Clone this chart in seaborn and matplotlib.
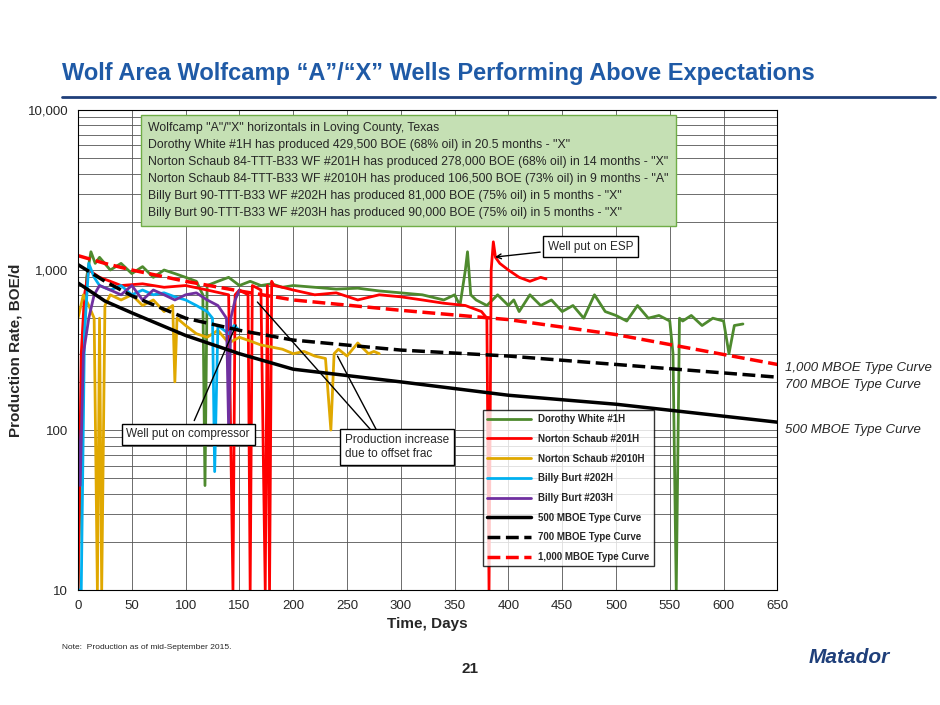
import matplotlib
matplotlib.use("Agg")
import matplotlib.pyplot as plt
import seaborn as sns
import pandas as pd

# type curves (days, BOE/d)
tc_days = [0, 25, 50, 100, 150, 200, 300, 400, 500, 650]
tc_500 = [830, 640, 540, 390, 300, 240, 200, 165, 145, 112]
tc_700 = [1080, 850, 690, 500, 420, 365, 316, 290, 257, 214]
tc_1000 = [1230, 1100, 1000, 850, 740, 650, 560, 490, 395, 257]

# wells (days, BOE/d)
dw_days = [0, 4, 8, 12, 16, 20, 30, 40, 50, 60, 70, 80, 90, 100, 110, 116, 118, 120, 130, 140, 150, 160, 170, 180,
           190, 200, 220, 240, 260, 280, 300, 320, 340, 350, 355, 360, 362, 365, 370, 380, 390, 400, 405, 410, 420,
           430, 440, 450, 460, 470, 480, 490, 500, 510, 520, 530, 540, 550, 553, 556, 559, 562, 570, 580, 590, 600,
           605, 610, 618]
dw_rate = [10, 200, 900, 1300, 1100, 1200, 1000, 1100, 950, 1050, 900, 1000, 950, 900, 850, 700, 45, 800, 850, 900,
           800, 850, 800, 820, 780, 800, 780, 760, 770, 740, 720, 700, 650, 700, 600, 1000, 1300, 700, 650, 600, 700,
           600, 650, 550, 700, 600, 650, 550, 600, 500, 700, 550, 520, 480, 600, 500, 520, 480, 300, 10, 500, 480,
           520, 450, 500, 480, 300, 450, 460]
ns201_days = [0, 3, 6, 10, 20, 30, 40, 60, 80, 100, 120, 140, 144, 146, 150, 158, 160, 162, 170, 174, 176, 178, 180,
              182, 190, 200, 220, 240, 260, 280, 300, 320, 340, 360, 375, 380, 382, 384, 386, 388, 392, 400, 410, 420,
              430, 435]
ns201_rate = [10, 300, 700, 1000, 900, 850, 800, 820, 780, 800, 750, 700, 10, 700, 750, 700, 10, 800, 750, 10, 800,
              10, 850, 800, 780, 750, 700, 720, 650, 700, 680, 650, 620, 600, 550, 500, 10, 1000, 1500, 1200, 1100,
              1000, 900, 850, 900, 880]
ns2010_days = [0, 5, 10, 15, 18, 20, 22, 25, 30, 40, 50, 60, 70, 80, 88, 90, 92, 100, 110, 120, 130, 140, 150, 160,
               170, 180, 190, 200, 210, 220, 230, 235, 238, 242, 250, 260, 270, 275, 280]
ns2010_rate = [500, 700, 600, 500, 10, 500, 10, 600, 700, 650, 700, 600, 650, 550, 600, 200, 500, 450, 400, 380, 420,
               350, 380, 360, 340, 330, 320, 300, 310, 290, 280, 100, 300, 320, 290, 350, 300, 310, 300]
bb202_days = [0, 3, 6, 10, 15, 20, 30, 40, 50, 60, 70, 80, 90, 100, 110, 120, 125, 127, 130, 140, 145, 150]
bb202_rate = [10, 10, 400, 1100, 900, 800, 750, 800, 700, 750, 700, 720, 680, 650, 600, 550, 500, 55, 450, 400, 450, 420]
bb203_days = [0, 2, 5, 10, 15, 20, 30, 40, 50, 60, 70, 80, 90, 100, 110, 120, 130, 138, 140, 142, 146, 150]
bb203_rate = [100, 45, 300, 500, 700, 800, 750, 700, 800, 650, 750, 700, 650, 700, 720, 650, 600, 500, 100, 500, 650, 750]

wells = [("Dorothy White #1H", dw_days, dw_rate, "#4e8a2e", "-"),
         ("Norton Schaub #201H", ns201_days, ns201_rate, "#ff0000", "-"),
         ("Norton Schaub #2010H", ns2010_days, ns2010_rate, "#e0a800", "-"),
         ("Billy Burt #202H", bb202_days, bb202_rate, "#00b0f0", "-"),
         ("Billy Burt #203H", bb203_days, bb203_rate, "#7030a0", "-"),
         ("500 MBOE Type Curve", tc_days, tc_500, "black", "-"),
         ("700 MBOE Type Curve", tc_days, tc_700, "black", "--"),
         ("1,000 MBOE Type Curve", tc_days, tc_1000, "#ff0000", "--")]

sns.set_style("white")
plt.rcParams['font.family'] = ['Liberation Sans', 'DejaVu Sans']
fig = plt.figure(figsize=(9.4, 7.05), dpi=100)
ax = fig.add_axes([0.083, 0.163, 0.744, 0.681])
for name, d, r, c, ls in wells:
    df = pd.DataFrame({"day": d, "rate": r})
    lw = 2.5 if "Type" in name else 2
    sns.lineplot(data=df, x="day", y="rate", ax=ax, color=c, linestyle=ls, lw=lw, label=name, sort=False)

ax.set_yscale("log")
ax.set_ylim(10, 10000)
ax.set_xlim(0, 650)
ax.set_xticks(range(0, 651, 50))
ax.set_yticks([10, 100, 1000, 10000])
ax.set_yticklabels(["10", "100", "1,000", "10,000"])
ax.grid(True, which="both", color="#555555", lw=0.6)
for s in ax.spines.values():
    s.set_color("black")
ax.tick_params(labelsize=9.5)
ax.set_xlabel("Time, Days", fontsize=11, fontweight="bold")
ax.set_ylabel("Production Rate, BOE/d", fontsize=11, fontweight="bold")

leg = ax.legend(loc="lower right", bbox_to_anchor=(0.83, 0.04), fontsize=7, frameon=True, fancybox=False,
                edgecolor="black", handlelength=4.5, labelspacing=1.0, prop={"weight": "bold", "size": 7})
leg.get_frame().set_linewidth(1)

box_text = ('Wolfcamp "A"/"X" horizontals in Loving County, Texas\n'
            'Dorothy White #1H has produced 429,500 BOE (68% oil) in 20.5 months - "X"\n'
            'Norton Schaub 84-TTT-B33 WF #201H has produced 278,000 BOE (68% oil) in 14 months - "X"\n'
            'Norton Schaub 84-TTT-B33 WF #2010H has produced 106,500 BOE (73% oil) in 9 months - "A"\n'
            'Billy Burt 90-TTT-B33 WF #202H has produced 81,000 BOE (75% oil) in 5 months - "X"\n'
            'Billy Burt 90-TTT-B33 WF #203H has produced 90,000 BOE (75% oil) in 5 months - "X"')
ax.text(0.1, 0.975, box_text, transform=ax.transAxes, va="top", fontsize=8.8, linespacing=1.55,
        bbox=dict(boxstyle="square,pad=0.6", fc="#c5e0b4", ec="#70ad47"))
ax.annotate("Well put on ESP", xy=(385, 1200), xytext=(437, 1400), fontsize=8.5, va="center",
            bbox=dict(boxstyle="square,pad=0.4", fc="white", ec="black"),
            arrowprops=dict(arrowstyle="->", color="black"))
ax.annotate("Well put on compressor", xy=(148, 470), xytext=(45, 90), fontsize=8.5,
            bbox=dict(boxstyle="square,pad=0.4", fc="white", ec="black"),
            arrowprops=dict(arrowstyle="-", color="black"))
ax.annotate("", xy=(165, 650), xytext=(285, 80), arrowprops=dict(arrowstyle="-", color="black"))
ax.annotate("", xy=(240, 300), xytext=(285, 80), arrowprops=dict(arrowstyle="-", color="black"))
ax.text(248, 68, "Production increase\ndue to offset frac", fontsize=8.5,
        bbox=dict(boxstyle="square,pad=0.4", fc="white", ec="black"))

for y, t in [(0.474, "1,000 MBOE Type Curve"), (0.449, "700 MBOE Type Curve"), (0.386, "500 MBOE Type Curve")]:
    fig.text(0.835, y, t, fontsize=9.5, style="italic")

fig.text(0.066, 0.887, "Wolf Area Wolfcamp \u201cA\u201d/\u201cX\u201d Wells Performing Above Expectations",
         fontsize=17, fontweight="bold", color="#1f5aa6")
fig.add_artist(plt.Line2D([0.066, 0.995], [0.862, 0.862], color="#1f3f7a", lw=2))
fig.text(0.066, 0.08, "Note:  Production as of mid-September 2015.", fontsize=6)
fig.text(0.5, 0.045, "21", fontsize=11, fontweight="bold", ha="center")
fig.text(0.86, 0.06, "Matador", fontsize=15, fontweight="bold", style="italic", color="#1f3f7a")
fig.savefig("out.png", dpi=100)
